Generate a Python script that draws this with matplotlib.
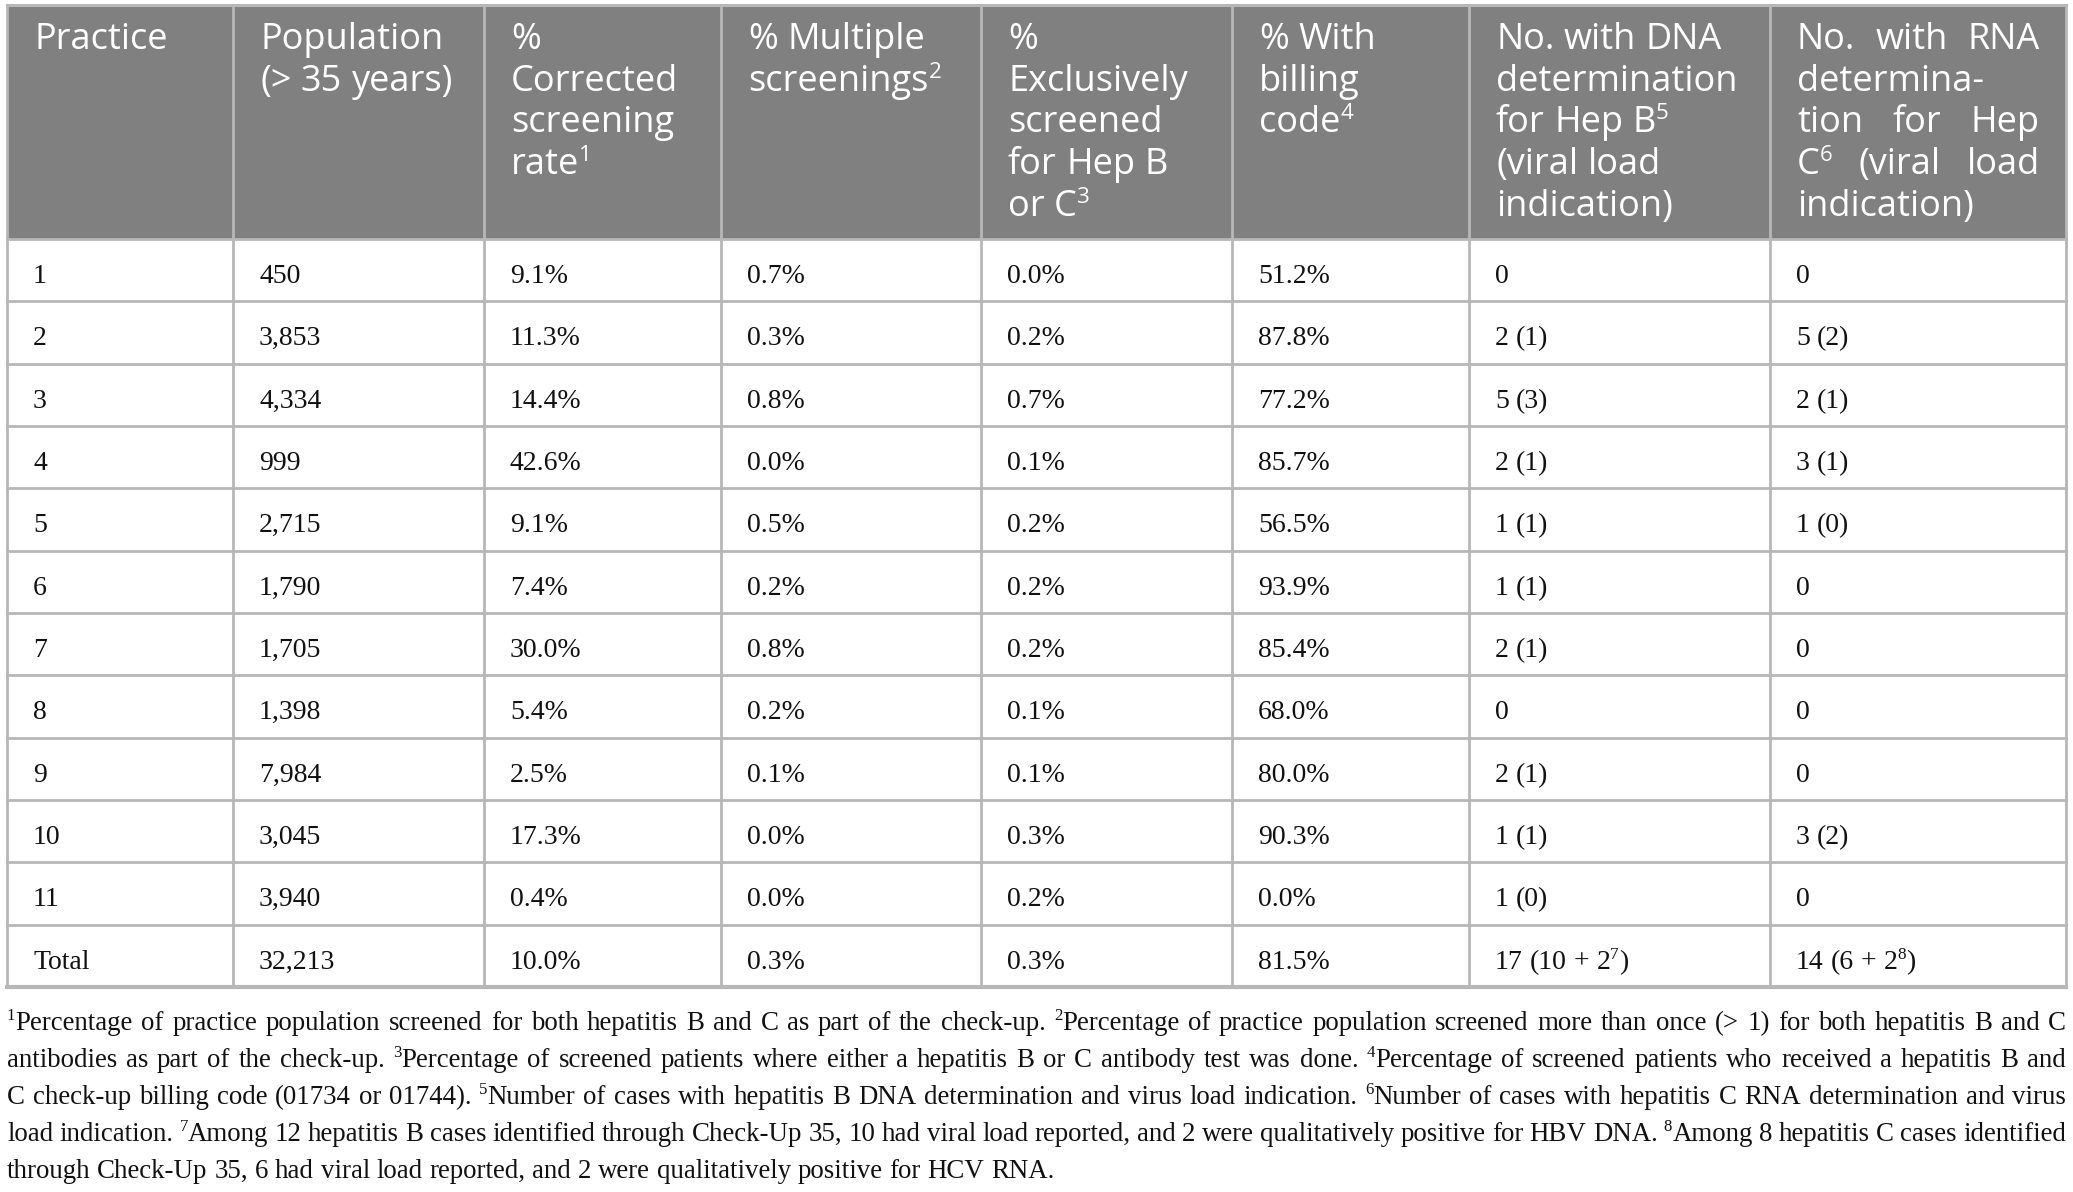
import re
import matplotlib
matplotlib.use('Agg')
import matplotlib.pyplot as plt
from matplotlib.patches import Rectangle

# ---- table content ----
headers = [
    ["Practice"],
    ["Population", "(> 35 years)"],
    ["%", "Corrected", "screening", "rate^1"],
    ["% Multiple", "screenings^2"],
    ["%", "Exclusively", "screened", "for Hep B", "or C^3"],
    ["% With", "billing", "code^4"],
    ["No. with DNA", "determination", "for Hep B^5", "(viral load", "indication)"],
    ["No. with RNA", "determina-", "tion for Hep", "C^6 (viral load", "indication)"],
]
# header lines that are justified to the column width
header_justify = {7: [0, 2, 3]}

practice   = ['1', '2', '3', '4', '5', '6', '7', '8', '9', '10', '11', 'Total']
population = ['450', '3,853', '4,334', '999', '2,715', '1,790', '1,705', '1,398',
              '7,984', '3,045', '3,940', '32,213']
corrected  = ['9.1%', '11.3%', '14.4%', '42.6%', '9.1%', '7.4%', '30.0%', '5.4%',
              '2.5%', '17.3%', '0.4%', '10.0%']
multiple   = ['0.7%', '0.3%', '0.8%', '0.0%', '0.5%', '0.2%', '0.8%', '0.2%',
              '0.1%', '0.0%', '0.0%', '0.3%']
exclusive  = ['0.0%', '0.2%', '0.7%', '0.1%', '0.2%', '0.2%', '0.2%', '0.1%',
              '0.1%', '0.3%', '0.2%', '0.3%']
billing    = ['51.2%', '87.8%', '77.2%', '85.7%', '56.5%', '93.9%', '85.4%', '68.0%',
              '80.0%', '90.3%', '0.0%', '81.5%']
dna        = ['0', '2 (1)', '5 (3)', '2 (1)', '1 (1)', '1 (1)', '2 (1)', '0',
              '2 (1)', '1 (1)', '1 (0)', '17 (10 + 2^7)']
rna        = ['0', '5 (2)', '2 (1)', '3 (1)', '1 (0)', '0', '0', '0',
              '0', '3 (2)', '0', '14 (6 + 2^8)']
columns = [practice, population, corrected, multiple, exclusive, billing, dna, rna]

footnotes = [
    "^1Percentage of practice population screened for both hepatitis B and C as part of the check-up. ^2Percentage of practice population screened more than once (> 1) for both hepatitis B and C",
    "antibodies as part of the check-up. ^3Percentage of screened patients where either a hepatitis B or C antibody test was done. ^4Percentage of screened patients who received a hepatitis B and",
    "C check-up billing code (01734 or 01744). ^5Number of cases with hepatitis B DNA determination and virus load indication. ^6Number of cases with hepatitis C RNA determination and virus",
    "load indication. ^7Among 12 hepatitis B cases identified through Check-Up 35, 10 had viral load reported, and 2 were qualitatively positive for HBV DNA. ^8Among 8 hepatitis C cases identified",
    "through Check-Up 35, 6 had viral load reported, and 2 were qualitatively positive for HCV RNA.",
]

# ---- layout (pixels) ----
W, H = 2073, 1192
col_edges = [7, 233, 484, 721, 981, 1232, 1469, 1770, 2066]
top_y, head_bot = 5, 239
row_h = 62.33
pad = 27
line_col = '#b7b7b7'
head_col = '#808080'

HEAD_FONT = ['Open Sans', 'DejaVu Sans']
BODY_FONT = ['Liberation Serif', 'DejaVu Serif']
head_size, body_size, note_size = 26, 20, 19.4

fig = plt.figure(figsize=(W / 100, H / 100), dpi=100)
ax = fig.add_axes([0, 0, 1, 1])
ax.set_xlim(0, W)
ax.set_ylim(H, 0)
ax.axis('off')
R = fig.canvas.get_renderer()

_wcache = {}
def text_w(s, size, family, weight='normal'):
    key = (s, size, family[0], weight)
    if key not in _wcache:
        t = ax.text(0, 0, s, fontsize=size, family=family, fontweight=weight)
        _wcache[key] = t.get_window_extent(renderer=R).width
        t.remove()
    return _wcache[key]

def space_w(size, family, weight='normal'):
    return text_w('x x', size, family, weight) - text_w('xx', size, family, weight)

def runs(word):
    parts = re.split(r'\^(\d)', word)
    return [(p, i % 2 == 1) for i, p in enumerate(parts) if p]

def word_w(word, size, family, weight='normal'):
    return sum(text_w(p, size * 0.62 if sup else size, family, weight)
               for p, sup in runs(word))

def draw_word(x, y, word, size, family, color, weight='normal'):
    for p, sup in runs(word):
        s = size * 0.62 if sup else size
        rise = size * 100 / 72 * 0.36 if sup else 0
        ax.text(x, y - rise, p, fontsize=s, family=family, color=color,
                fontweight=weight, ha='left', va='baseline')
        x += text_w(p, s, family, weight)
    return x

def draw_line(x, y, line, size, family, color, width=None, weight='normal'):
    words = line.split(' ')
    ws = [word_w(w, size, family, weight) for w in words]
    if width is not None and len(words) > 1:
        gap = (width - sum(ws)) / (len(words) - 1)
    else:
        gap = space_w(size, family, weight)
    for w, wd in zip(words, ws):
        draw_word(x, y, w, size, family, color, weight)
        x += wd + gap

# ---- header background and grid ----
n_rows = len(practice)
bottom = head_bot + n_rows * row_h
ax.add_patch(Rectangle((col_edges[0], top_y), col_edges[-1] - col_edges[0],
                       head_bot - top_y, facecolor=head_col, edgecolor='none'))
ax.plot([col_edges[0], col_edges[-1]], [top_y, top_y], color=line_col, lw=2.2)
for i in range(n_rows + 1):
    y = head_bot + i * row_h
    ax.plot([col_edges[0], col_edges[-1]], [y, y], color=line_col,
            lw=3.0 if i == n_rows else 2.0)
for x in col_edges:
    ax.plot([x, x], [top_y, bottom], color=line_col, lw=2.0)

# ---- header text ----
for c, lines in enumerate(headers):
    x0 = col_edges[c] + pad
    cw = col_edges[c + 1] - col_edges[c] - 2 * pad + 1
    for k, line in enumerate(lines):
        y = 49 + k * 41.7
        just = cw if k in header_justify.get(c, []) else None
        draw_line(x0, y, line, head_size, HEAD_FONT, 'white', width=just,
                  weight='medium')

# ---- body text ----
for c, vals in enumerate(columns):
    x0 = col_edges[c] + pad - 1
    for r, v in enumerate(vals):
        y = head_bot + r * row_h + 44
        draw_line(x0, y, v, body_size, BODY_FONT, '#111111')

# ---- footnotes ----
fn_w = col_edges[-1] - col_edges[0]
for k, line in enumerate(footnotes):
    y = 1030 + k * 37
    just = fn_w if k < len(footnotes) - 1 else None
    draw_line(col_edges[0], y, line, note_size, BODY_FONT, '#111111', width=just)

fig.savefig('out.png', dpi=100)
